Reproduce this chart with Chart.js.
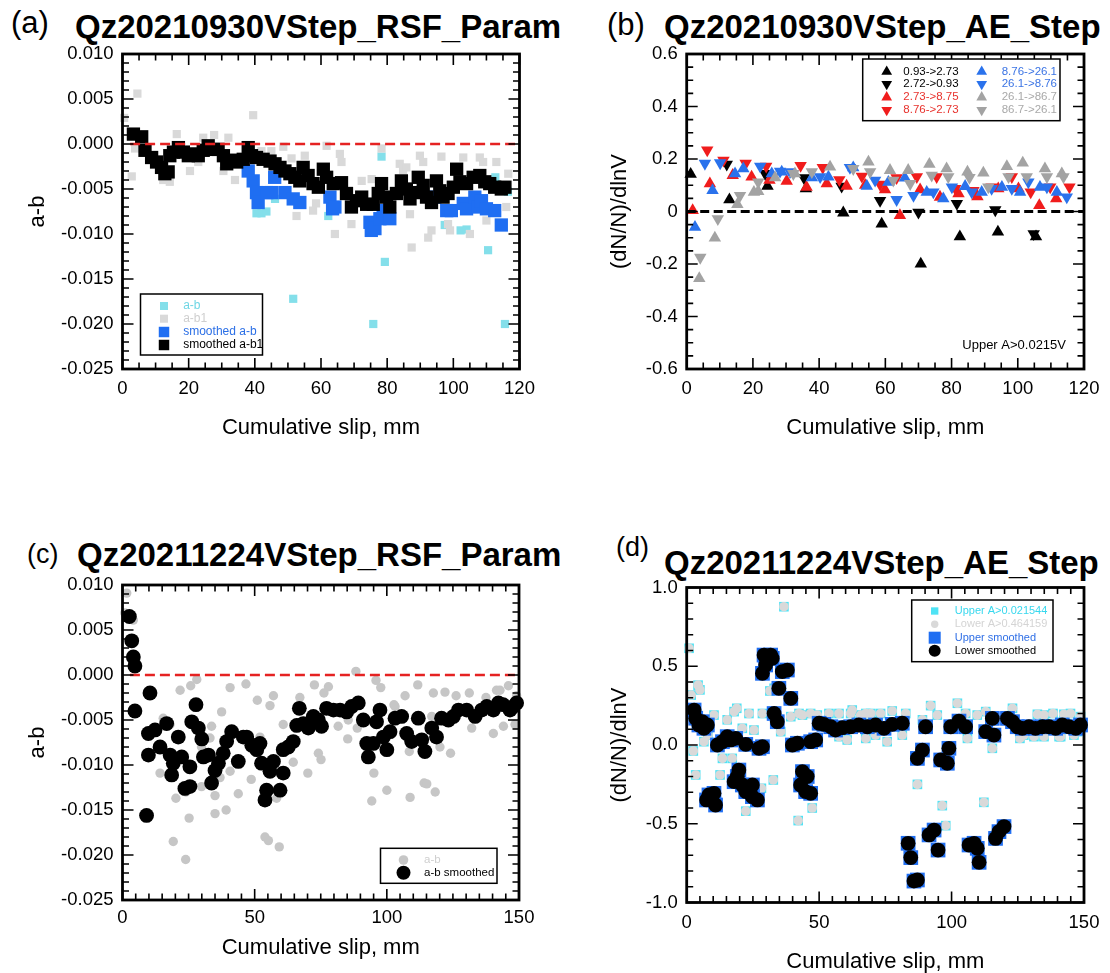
<!DOCTYPE html>
<html>
<head>
<meta charset="utf-8">
<script src="https://cdn.jsdelivr.net/npm/chart.js@4.4.1/dist/chart.umd.min.js"></script>
<style>
  body { margin: 0; background: #fff; width: 1110px; height: 973px; position: relative; overflow: hidden;
         font-family: "Liberation Sans", Arial, Helvetica, sans-serif; color: #000; }
  .tag { position: absolute; line-height: 1; white-space: nowrap; }
  .ttl { position: absolute; font-size: 33px; font-weight: bold; line-height: 1; white-space: nowrap; }
  canvas { position: absolute; }
</style>
</head>
<body>
<div class="tag" style="left:11px;top:7px;font-size:31px">(a)</div>
<div class="ttl" style="left:75px;top:10px">Qz20210930VStep_RSF_Param</div>
<div class="tag" style="left:607px;top:9px;font-size:31px">(b)</div>
<div class="ttl" style="left:664px;top:10px">Qz20210930VStep_AE_Step</div>
<div class="tag" style="left:27px;top:541px;font-size:27px">(c)</div>
<div class="ttl" style="left:77px;top:538px">Qz20211224VStep_RSF_Param</div>
<div class="tag" style="left:616px;top:534px;font-size:27px">(d)</div>
<div class="ttl" style="left:664px;top:546px">Qz20211224VStep_AE_Step</div>

<canvas id="pa" width="555" height="428" style="left:0;top:32px"></canvas>
<canvas id="pb" width="555" height="428" style="left:555px;top:32px"></canvas>
<canvas id="pc" width="555" height="410" style="left:0;top:563px"></canvas>
<canvas id="pd" width="555" height="414" style="left:555px;top:566px"></canvas>

<script>
// ---- (a) Qz20210930: a-b against cumulative slip [mm, a-b] ----
const aAB = [[40.5,-0.0077],[42,-0.0077],[43.5,-0.0075],[46.1,-0.0061],[51.6,-0.0172],[62.2,-0.0080],
  [78.3,-0.0014],[79.3,-0.0131],[75.8,-0.0200],[97.4,-0.0090],[102.2,-0.0096],[104,-0.0095],
  [110.5,-0.0118],[115.6,-0.0200],[112.7,-0.0037],[116.5,-0.0053]];
const aAB1 = [[0.5,0.0029],[4.5,0.0056],[2.8,-0.0036],[3.8,-0.0005],[12.3,-0.0040],[14.3,-0.0042],
  [16.4,0.0011],[20.4,-0.0030],[22.9,-0.0020],[24.4,0.0007],[27.7,0.0010],[30.5,-0.0030],[32,0.0007],
  [34,-0.0040],[39.5,0.0032],[42,-0.0008],[45,-0.0008],[48.6,-0.0003],[51.1,-0.0016],[52.6,-0.0080],
  [55.1,-0.0013],[57.6,-0.0074],[58.5,-0.0066],[61.7,-0.0002],[64.2,-0.0100],[65.7,-0.0011],
  [66.2,-0.0020],[69.2,-0.0089],[72.3,-0.0041],[75.3,-0.0039],[78.3,-0.0005],[83.8,-0.0022],
  [84.8,-0.0029],[85.8,-0.0026],[86.9,-0.0078],[87.4,-0.0115],[89.9,-0.0013],[90.9,-0.0020],
  [92.4,-0.0104],[93.4,-0.0096],[96.4,-0.0014],[98.4,-0.0089],[99,-0.0096],[103,-0.0015],
  [105,-0.0100],[108,-0.0015],[109,-0.0020],[110,-0.0085],[113,-0.0020],[116,-0.0070],[116.6,-0.0033]];
const aAbSmooth = [[38,-0.0030],[39.5,-0.0041],[40.5,-0.0054],[41,-0.0065],[43.6,-0.0054],[45.1,-0.0054],
  [46,-0.0037],[49.1,-0.0054],[51.6,-0.0061],[53.6,-0.0065],[62.7,-0.0059],[63.5,-0.0072],[64.2,-0.0070],
  [74.8,-0.0087],[75.2,-0.0096],[76.3,-0.0094],[77.8,-0.0083],[78.8,-0.0074],[80.8,-0.0083],
  [94.4,-0.0059],[98,-0.0074],[99.4,-0.0074],[103,-0.0066],[104,-0.0072],[106.5,-0.0059],
  [107.6,-0.0070],[108.5,-0.0063],[110,-0.0072],[112.5,-0.0074],[114.5,-0.0090]];
const aAb1Smooth = [[3.3,0.0011],[5.8,0.0008],[6.8,-0.0007],[8.8,-0.0015],[10.3,-0.0020],[11.8,-0.0026],
  [12.8,-0.0033],[13.8,-0.0031],[14.3,-0.0013],[15.4,-0.0009],[16.9,-0.0004],[18.4,-0.0009],
  [19.9,-0.0013],[21.4,-0.0011],[22.9,-0.0013],[24.4,-0.0007],[25.9,-0.0002],[27.4,-0.0006],
  [28.9,-0.0006],[30.5,-0.0013],[31.5,-0.0022],[33,-0.0018],[34.5,-0.0020],[36.5,-0.0017],
  [38,-0.0004],[39,-0.0013],[40.5,-0.0015],[42.5,-0.0017],[44.6,-0.0019],[46.1,-0.0022],
  [47.6,-0.0026],[49.1,-0.0030],[50.6,-0.0033],[52.1,-0.0037],[53.6,-0.0041],[54.6,-0.0026],
  [56.1,-0.0035],[57.6,-0.0044],[59.2,-0.0048],[60.7,-0.0028],[61.7,-0.0037],[63.7,-0.0044],
  [66.2,-0.0043],[67.7,-0.0055],[69.2,-0.0070],[70.7,-0.0063],[72.3,-0.0059],[73.8,-0.0067],
  [75.8,-0.0067],[77.3,-0.0055],[78.3,-0.0044],[79.8,-0.0059],[80.8,-0.0070],[82.8,-0.0055],
  [84.3,-0.0041],[85.8,-0.0050],[86.9,-0.0061],[88.4,-0.0054],[89.4,-0.0037],[90.9,-0.0046],
  [91.9,-0.0059],[93.4,-0.0065],[94.9,-0.0041],[95.9,-0.0052],[96.9,-0.0059],[98.4,-0.0055],
  [100,-0.0048],[101,-0.0028],[102,-0.0042],[104,-0.0044],[106,-0.0037],[108,-0.0035],
  [109.5,-0.0042],[111,-0.0044],[112.5,-0.0048],[114.5,-0.0050],[115.6,-0.0048]];
const aZero = [[2.3,0],[120,0]];

// ---- (b) Qz20210930: (dN/N)/dlnV per velocity step [mm, value] ----
const bUp093 = [[1.2,0.142],[12.9,0.045],[24.4,0.097],[36,0.087],[47.3,-0.005],[58.9,-0.047],
  [70.7,-0.200],[82.5,-0.096],[94,-0.078],[105.5,-0.096]];
const bDn272 = [[12.1,0.180],[23.7,0.144],[35.4,0.128],[46.8,0.096],[58.4,0.042],[70,-0.003],
  [81.6,0.030],[93.2,0.006],[104.8,-0.085]];
const bUp273 = [[1.8,0.004],[7.0,0.106],[13.9,0.138],[19.6,0.132],[25,0.119],[30.2,0.116],[36.2,0.093],
  [42.3,0.106],[48.3,0.097],[53.9,0.100],[59.9,0.083],[64.4,-0.015],[70.5,0.083],[76.5,0.055],
  [82.1,0.068],[87.8,0.057],[94.1,0.087],[100.2,0.087],[106.5,0.023],[111.6,0.049]];
const bDn876 = [[6.2,0.234],[11.1,0.195],[17.8,0.183],[24,0.172],[34.4,0.175],[41.1,0.167],[46.1,0.121],
  [52.9,0.134],[58.4,0.103],[63.4,0.128],[69.5,0.132],[75.5,0.132],[81.1,0.087],[86.6,0.080],
  [92.1,0.093],[98.2,0.132],[103.9,0.074],[109.8,0.093],[115.6,0.093]];
const bUp876 = [[2.5,-0.060],[7.8,0.080],[14.6,0.144],[17.1,0.163],[25.7,0.144],[28.7,0.151],[37.8,0.129],
  [42.8,0.132],[50.3,0.167],[54.4,0.097],[60.9,0.112],[65.9,0.128],[72.5,0.074],[77.5,0.049],
  [84.1,0.096],[89.1,0.074],[95.2,0.093],[100.7,0.074],[106.7,0.093],[111.8,0.074]];
const bDn261 = [[5.5,0.183],[10.1,0.185],[22.2,0.172],[28.2,0.153],[31.2,0.151],[40.3,0.132],[49.3,0.167],
  [56.9,0.119],[63.4,0.045],[68.5,0.061],[74.5,0.074],[80.1,0.093],[86.1,0.074],[92.1,0.087],
  [98.2,0.087],[103.2,0.112],[108.8,0.093],[114.8,0.055]];
const bUp261 = [[3.8,-0.255],[8.5,-0.101],[15.3,0.027],[20.3,0.074],[21.6,0.077],[26.7,0.129],[32.7,0.144],
  [43.3,0.170],[54.9,0.189],[61.4,0.157],[66.9,0.157],[73.3,0.180],[78.5,0.163],[84.8,0.151],
  [89.6,0.147],[96.7,0.172],[101.5,0.185],[108.2,0.163],[113.3,0.144]];
const bDn867 = [[4.1,-0.175],[9.4,-0.028],[16.1,0.061],[21.6,0.112],[32.2,0.144],[37.8,0.151],[50.3,0.163],
  [55.4,0.151],[62.4,0.119],[67.5,0.106],[74,0.138],[79,0.132],[85.4,0.129],[91.1,0.093],[97.2,0.132],
  [102.7,0.132],[108.8,0.132],[113.8,0.132]];
const bZero = [[0,0],[120,0]];

// ---- (c) Qz20211224: a-b against cumulative slip [mm, a-b] ----
const cAB = [[1.6,0.0091],[0.9,0.0069],[4.1,0.0061],[14.2,-0.0109],[15.4,-0.0048],[18,-0.0055],
  [19.2,-0.0185],[20.2,-0.0137],[21.8,-0.0017],[23.9,-0.0205],[24,-0.0130],[25.2,-0.0159],
  [25.8,-0.0012],[28.1,-0.0005],[29.9,-0.0124],[29.9,-0.0080],[33.1,-0.0070],[33.7,-0.0057],
  [35,-0.0134],[35,-0.0154],[36.9,-0.0114],[37.5,-0.0041],[39.2,-0.0150],[40.7,-0.0014],
  [40.7,-0.0107],[43.8,-0.0132],[46.7,-0.0010],[48.7,-0.0116],[51,-0.0028],[52,-0.0069],
  [53.9,-0.0180],[55.2,-0.0184],[55.8,-0.0034],[57.1,-0.0023],[58.3,-0.0137],[59.3,-0.0191],
  [60.8,-0.0055],[64.6,-0.0097],[67.1,-0.0025],[70.1,-0.0109],[72.6,-0.0011],[74.1,-0.0087],
  [75.1,-0.0094],[76.2,-0.0020],[77.9,-0.0013],[81.6,-0.0057],[85.2,-0.0071],[85.4,-0.0050],
  [88.3,0.0004],[88.8,-0.0059],[94.3,-0.0140],[95.1,-0.0109],[95.9,-0.0006],[97.7,-0.0014],
  [100,-0.0128],[102.7,-0.0033],[103.1,-0.0035],[106.9,-0.0023],[108.5,-0.0085],[108.8,-0.0136],
  [111.7,-0.0011],[114.1,-0.0120],[115.1,-0.0121],[117,-0.0046],[117.6,-0.0020],[118.3,-0.0130],
  [120.1,-0.0080],[122,-0.0019],[124.1,-0.0087],[126.2,-0.0023],[131.2,-0.0020],[132.1,-0.0059],
  [137.5,-0.0025],[140.3,-0.0065],[141.5,-0.0017],[142.8,-0.0017],[144.1,-0.0057],[146,-0.0012],
  [148.5,-0.0055],[149.1,-0.0023]];
const cAbSmooth = [[2.6,0.0065],[3.5,0.0038],[4.1,0.0020],[4.7,0.0010],[4.7,-0.0040],[9.1,-0.0156],
  [9.8,-0.0089],[9.8,-0.0065],[10.4,-0.0020],[12.3,-0.0061],[14.2,-0.0080],[16.7,-0.0054],[18,-0.0089],
  [18.6,-0.0111],[19.2,-0.0098],[21.1,-0.0069],[22.4,-0.0091],[23.6,-0.0126],[25.5,-0.0124],
  [25.5,-0.0102],[26.2,-0.0052],[27.8,-0.0033],[28.7,-0.0059],[30,-0.0071],[30.6,-0.0091],
  [32.5,-0.0089],[33.7,-0.0120],[35,-0.0106],[36.3,-0.0098],[38.1,-0.0087],[39.4,-0.0074],
  [41.3,-0.0063],[43.8,-0.0096],[45.7,-0.0069],[47,-0.0069],[48.9,-0.0078],[50.8,-0.0083],
  [52,-0.0076],[52.6,-0.0098],[53.9,-0.0139],[54.5,-0.0128],[55.8,-0.0107],[57.1,-0.0096],
  [59.6,-0.0128],[60.8,-0.0109],[60.8,-0.0083],[62.7,-0.0080],[64.6,-0.0074],[65.9,-0.0056],
  [66.9,-0.0037],[68.4,-0.0054],[70.3,-0.0059],[72.2,-0.0046],[74.1,-0.0050],[75.3,-0.0057],
  [77.2,-0.0037],[79.8,-0.0039],[82.3,-0.0039],[84.8,-0.0041],[86.7,-0.0035],[89.2,-0.0031],
  [91.1,-0.0050],[92.4,-0.0076],[93,-0.0091],[94.9,-0.0076],[96.1,-0.0052],[97.4,-0.0039],
  [98.7,-0.0069],[100,-0.0083],[101.2,-0.0063],[103.1,-0.0048],[105.6,-0.0046],[107.5,-0.0065],
  [109.4,-0.0074],[111.9,-0.0048],[113.2,-0.0072],[114.4,-0.0085],[117,-0.0059],[118.8,-0.0069],
  [120.7,-0.0048],[123.3,-0.0050],[125.2,-0.0046],[127.1,-0.0039],[130.2,-0.0039],[133.4,-0.0046],
  [135.9,-0.0039],[137.8,-0.0035],[140.3,-0.0039],[142.2,-0.0031],[144,-0.0033],[146.6,-0.0039],
  [147.9,-0.0035],[149.1,-0.0031]];
const cZero = [[2.8,0],[150,0]];

// ---- (d) Qz20211224: (dN/N)/dlnV, upper and lower thresholds coincide ----
const dUpper = [[0.9,0.614],[1.7,0.317],[2.5,-0.038],[3.4,-0.190],[4.3,0.380],[5,0.350],[6.5,0.021],
  [8,0.063],[10.3,0.190],[12.6,-0.190],[13.5,-0.085],[15.3,0.160],[17.2,-0.085],[17.9,0.212],
  [18.9,0.233],[21,0.106],[22.3,-0.420],[23.5,0.200],[25.4,0.095],[28.2,-0.275],[28.6,0.200],
  [31.4,0.343],[32.7,-0.222],[33,0.360],[35.5,0.085],[36.7,0.878],[39.3,0.180],[42.1,-0.480],
  [42.4,0.200],[43.7,0.190],[46.8,0.200],[47.4,-0.400],[49.3,0.190],[53.7,0.200],[57.5,0.200],
  [57.5,0.053],[60.6,0.032],[61.9,0.200],[62.5,0.222],[65.7,0.190],[67.6,0.200],[67.6,0.042],
  [69.5,0.200],[71.3,0.063],[73.2,0.200],[75.7,0.021],[77.6,0.216],[81.4,0.063],[82.7,0.200],
  [87.1,-0.250],[89,0.160],[92.1,0.250],[94.6,0.190],[96.5,-0.385],[97.8,-0.512],[102.2,0.265],
  [105.3,0.200],[106,0.042],[109.7,0.190],[112.2,-0.364],[112.9,0.212],[115.4,-0.021],[123,0.233],
  [125.8,0.042],[127.3,0.063],[131.1,0.053],[132.4,0.195],[134.9,0.190],[134.9,0.053],[138.3,0.200],
  [140.6,0.053],[141.2,0.053],[142.4,0.195],[144.9,0.200],[146.2,0.063],[147.5,0.085],[148.7,0.180]];
const dLower = dUpper;
const dUpperSmooth = [[2.8,0.222],[3.4,0.170],[4.6,0.127],[5.9,0.148],[6.5,0.106],[7.8,0.127],
  [7.5,-0.349],[8.4,-0.317],[10.3,-0.307],[10.9,-0.381],[11.6,0.000],[13.5,0.021],[15.3,0.053],
  [16.6,0.032],[18.5,0.042],[17.9,-0.233],[19.1,-0.200],[19.7,-0.159],[21,-0.254],[22.3,-0.296],
  [22.3,0.004],[24.8,-0.254],[24.8,-0.328],[26.7,-0.349],[27.3,-0.021],[28.6,-0.011],[28.6,0.455],
  [29.2,0.571],[29.8,0.508],[31.7,0.571],[32.3,0.550],[33,0.200],[34.2,0.148],[34.8,0.360],
  [36.1,0.466],[38,0.476],[39.3,0.296],[39.9,0.000],[41.8,0.011],[43,-0.254],[43.7,-0.169],
  [44.9,-0.296],[45.5,-0.200],[46.8,-0.307],[46.8,0.021],[48.7,0.032],[50,0.138],[51.8,0.131],
  [54.4,0.116],[56.2,0.095],[58.8,0.110],[61.9,0.116],[65,0.127],[68.2,0.116],[71.3,0.127],
  [74.5,0.106],[77.6,0.131],[81.4,0.138],[83.6,-0.624],[84.6,-0.715],[85.8,-0.864],[87.1,-0.857],
  [87.1,-0.085],[89,-0.032],[90.2,0.116],[91.5,-0.571],[93.4,-0.540],[94.9,-0.667],[95.9,-0.095],
  [98.4,-0.116],[99,-0.021],[99.7,0.116],[102.8,0.152],[105.3,0.116],[106.6,-0.635],[108.5,-0.624],
  [109.7,-0.656],[110.4,-0.745],[112.9,0.085],[115.4,0.169],[116,0.063],[116.6,-0.593],[117.9,-0.550],
  [119.8,-0.518],[121.1,0.169],[123,0.148],[124.8,0.116],[126.7,0.106],[129.2,0.116],[131.7,0.106],
  [134.3,0.116],[136.8,0.116],[139.3,0.106],[141.8,0.127],[144.3,0.116],[146.9,0.106],[148.7,0.127]];
const dLowerSmooth = dUpperSmooth;

const SLIP_TITLE = 'Cumulative slip, mm';

Chart.defaults.font.family = '"Liberation Sans", Arial, Helvetica, sans-serif';
Chart.defaults.color = '#000';
const TICK_FONT = { size: 18.5 };
const AXIS_FONT = { size: 22 };

function pts(list) {
  return list.map(p => ({ x: p[0], y: p[1] }));
}

// one scatter series; lower `order` is painted on top
function marks(label, list, style, r, color, order, rot) {
  return {
    label, data: pts(list), showLine: false, order, clip: false,
    pointStyle: style, pointRadius: r, pointRotation: rot || 0,
    pointBackgroundColor: color, pointBorderWidth: 0, borderColor: color, backgroundColor: color
  };
}

function zeroLine(list, color, width, dash) {
  return {
    type: 'line', data: pts(list), borderColor: color, borderWidth: width, borderDash: dash,
    pointRadius: 0, fill: false, order: 0, clip: false
  };
}

function steps(min, max, step) {
  const n = Math.round((max - min) / step), out = [];
  for (let i = 0; i <= n; i++) out.push(min + i * step);
  return out;
}
function onStep(v, step) {
  const k = v / step;
  return Math.abs(k - Math.round(k)) < 1e-6;
}

// closed box with inward major/minor ticks on all four sides
function boxFrame(f) {
  return {
    id: 'boxFrame',
    afterDatasetsDraw(chart) {
      const { ctx, chartArea: a, scales: { x, y } } = chart;
      ctx.save();
      ctx.strokeStyle = '#000';
      ctx.lineWidth = 1.6;
      ctx.beginPath();
      for (const v of steps(x.min, x.max, f.xMinor)) {
        const p = x.getPixelForValue(v), len = onStep(v, f.xMajor) ? 11 : 6.5;
        ctx.moveTo(p, a.bottom); ctx.lineTo(p, a.bottom - len);
        ctx.moveTo(p, a.top); ctx.lineTo(p, a.top + len);
      }
      for (const v of steps(y.min, y.max, f.yMinor)) {
        const p = y.getPixelForValue(v), len = onStep(v, f.yMajor) ? 11 : 6.5;
        ctx.moveTo(a.left, p); ctx.lineTo(a.left + len, p);
        ctx.moveTo(a.right, p); ctx.lineTo(a.right - len, p);
      }
      ctx.stroke();
      ctx.lineWidth = 2.8;
      ctx.strokeRect(a.left, a.top, a.right - a.left, a.bottom - a.top);
      ctx.restore();
    }
  };
}

// boxed legend placed inside the plot, positions relative to the chart area
function insetLegend(L) {
  return {
    id: 'insetLegend',
    afterDraw(chart) {
      const { ctx, chartArea: a } = chart;
      const sets = chart.data.datasets;
      ctx.save();
      if (L.box) {
        const [x0, y0, x1, y1] = L.box;
        ctx.fillStyle = '#fff';
        ctx.fillRect(a.left + x0, a.top + y0, x1 - x0, y1 - y0);
        ctx.lineWidth = 1.5;
        ctx.strokeStyle = '#000';
        ctx.strokeRect(a.left + x0, a.top + y0, x1 - x0, y1 - y0);
      }
      ctx.textBaseline = 'middle';
      ctx.font = L.font;
      for (const it of L.items || []) {
        const ds = sets[it.ds];
        ctx.fillStyle = ds.pointBackgroundColor;
        Chart.helpers.drawPoint(ctx, {
          pointStyle: ds.pointStyle, rotation: ds.pointRotation || 0, radius: it.r, borderWidth: 0
        }, a.left + it.mx, a.top + it.y);
        ctx.fillStyle = it.color;
        ctx.textAlign = 'left';
        ctx.fillText(ds.label, a.left + it.tx, a.top + it.y);
      }
      for (const n of L.notes || []) {
        ctx.font = n.font;
        ctx.fillStyle = '#000';
        ctx.textAlign = n.align;
        ctx.fillText(n.text, a.left + n.x, a.top + n.y);
      }
      ctx.restore();
    }
  };
}

// top padding stays above the half-label overhang of the y ticks so the area is not pushed down
function panel(id, o) {
  return new Chart(document.getElementById(id), {
    type: 'scatter',
    data: { datasets: o.datasets },
    options: {
      responsive: false, animation: false, events: [],
      layout: { padding: { left: 0, top: o.top, right: o.right, bottom: 0 } },
      plugins: { legend: { display: false }, tooltip: { enabled: false } },
      scales: {
        x: {
          type: 'linear', min: o.x[0], max: o.x[1],
          ticks: { stepSize: o.x[2], font: TICK_FONT, padding: o.xTickPad, maxRotation: 0, autoSkip: false,
                   callback: v => String(Math.round(v)) },
          grid: { display: false, drawTicks: false }, border: { display: false },
          title: { display: true, text: SLIP_TITLE, font: AXIS_FONT, padding: { top: 0, bottom: o.xTitlePad } },
          afterFit: s => { s.height = o.xh; }
        },
        y: {
          type: 'linear', min: o.y[0], max: o.y[1],
          ticks: { stepSize: o.y[2], font: TICK_FONT, padding: 9, autoSkip: false, callback: o.yFmt },
          grid: { display: false, drawTicks: false }, border: { display: false },
          title: { display: true, text: o.yTitle, font: AXIS_FONT, padding: { top: o.yTitlePad, bottom: 0 } },
          afterFit: s => { s.width = o.yw; }
        }
      }
    },
    plugins: [boxFrame(o.frame), insetLegend(o.legend)]
  });
}

const fmt3 = v => (Math.abs(v) < 1e-12 ? 0 : v).toFixed(3);
const fmt1 = v => (Math.abs(v) < 1e-9 ? 0 : v).toFixed(1);
const fmtShort = v => Math.abs(v) < 1e-9 ? '0' : String(Math.round(v * 10) / 10);

const CYAN_A = '#84dfea', LIGHT = '#d9d9d9', BLUE = '#1f6ef2';
const RED = '#f01c1c', BLUE_T = '#2a72ec', GRAY_T = '#a3a3a3';

panel('pa', {
  datasets: [
    zeroLine(aZero, '#e52222', 2.7, [10, 5]),
    marks('smoothed a-b1', aAb1Smooth, 'rect', 9.4, '#000', 1),
    marks('smoothed a-b', aAbSmooth, 'rect', 9.4, BLUE, 2),
    marks('a-b1', aAB1, 'rect', 5.8, LIGHT, 3),
    marks('a-b', aAB, 'rect', 5.8, CYAN_A, 4)
  ],
  x: [0, 120, 20], y: [-0.025, 0.010, 0.005], yFmt: fmt3, yTitle: 'a-b',
  top: 22, right: 35.5, yw: 122.5, xh: 91, xTickPad: 9, xTitlePad: 18.8, yTitlePad: 24.8,
  frame: { xMajor: 20, xMinor: 5, yMajor: 0.005, yMinor: 0.001 },
  legend: {
    box: [18, 240, 140, 301], font: '12px "Liberation Sans", Arial, sans-serif',
    items: [
      { ds: 4, r: 5.7, mx: 41.5, tx: 60.7, y: 252, color: '#6fd6e4' },
      { ds: 3, r: 5.7, mx: 41.5, tx: 60.7, y: 264.7, color: '#cfcfcf' },
      { ds: 2, r: 7.4, mx: 41.5, tx: 60.7, y: 278, color: '#2b6fe6' },
      { ds: 1, r: 7.4, mx: 41.5, tx: 60.7, y: 291, color: '#000' }
    ]
  }
});

panel('pb', {
  datasets: [
    zeroLine(bZero, '#000', 3.2, [9, 4.5]),
    marks('86.7->26.1', bDn867, 'triangle', 7.2, GRAY_T, 1, 180),
    marks('26.1->86.7', bUp261, 'triangle', 7.2, GRAY_T, 2),
    marks('26.1->8.76', bDn261, 'triangle', 7.2, BLUE_T, 3, 180),
    marks('8.76->26.1', bUp876, 'triangle', 7.2, BLUE_T, 4),
    marks('8.76->2.73', bDn876, 'triangle', 7.2, RED, 5, 180),
    marks('2.73->8.75', bUp273, 'triangle', 7.2, RED, 6),
    marks('2.72->0.93', bDn272, 'triangle', 7.2, '#000', 7, 180),
    marks('0.93->2.73', bUp093, 'triangle', 7.2, '#000', 8)
  ],
  x: [0, 120, 20], y: [-0.6, 0.6, 0.2], yFmt: fmtShort, yTitle: '(dN/N)/dlnV',
  top: 22, right: 26, yw: 131.7, xh: 91, xTickPad: 9, xTitlePad: 18.8, yTitlePad: 52,
  frame: { xMajor: 20, xMinor: 5, yMajor: 0.2, yMinor: 0.05 },
  legend: {
    box: [176, 5, 373.3, 66.7], font: '11.5px "Liberation Sans", Arial, sans-serif',
    items: [
      { ds: 8, r: 6.2, mx: 200, tx: 216.6, y: 17.7, color: '#000' },
      { ds: 7, r: 6.2, mx: 200, tx: 216.6, y: 30, color: '#000' },
      { ds: 6, r: 6.2, mx: 200, tx: 216.6, y: 43.3, color: '#e8322d' },
      { ds: 5, r: 6.2, mx: 200, tx: 216.6, y: 56, color: '#e8322d' },
      { ds: 4, r: 6.2, mx: 295, tx: 315, y: 17.7, color: '#3b74e4' },
      { ds: 3, r: 6.2, mx: 295, tx: 315, y: 30, color: '#3b74e4' },
      { ds: 2, r: 6.2, mx: 295, tx: 315, y: 43.3, color: '#a9a9a9' },
      { ds: 1, r: 6.2, mx: 295, tx: 315, y: 56, color: '#a9a9a9' }
    ],
    notes: [{ text: 'Upper A>0.0215V', x: 379.3, y: 291, align: 'right',
              font: '13px "Liberation Sans", Arial, sans-serif' }]
  }
});

panel('pc', {
  datasets: [
    zeroLine(cZero, '#e52222', 2.7, [10, 5]),
    marks('a-b smoothed', cAbSmooth, 'circle', 7.4, '#000', 1),
    marks('a-b', cAB, 'circle', 4.7, '#c6c6c6', 2)
  ],
  x: [0, 150, 50], y: [-0.025, 0.010, 0.005], yFmt: fmt3, yTitle: 'a-b',
  top: 22, right: 36, yw: 122.5, xh: 73, xTickPad: 7, xTitlePad: 11.8, yTitlePad: 24.8,
  frame: { xMajor: 50, xMinor: 5, yMajor: 0.005, yMinor: 0.001 },
  legend: {
    box: [258, 263.3, 374.5, 298.3], font: '11.5px "Liberation Sans", Arial, sans-serif',
    items: [
      { ds: 2, r: 4.8, mx: 281, tx: 301.5, y: 275, color: '#cfcfcf' },
      { ds: 1, r: 7, mx: 281, tx: 301.5, y: 287.7, color: '#000' }
    ]
  }
});

panel('pd', {
  datasets: [
    marks('Lower smoothed', dLowerSmooth, 'circle', 7.4, '#000', 1),
    marks('Upper smoothed', dUpperSmooth, 'rect', 10.4, BLUE, 2),
    marks('Lower A>0.464159', dLower, 'circle', 4.8, LIGHT, 3),
    marks('Upper A>0.021544', dUpper, 'rect', 6.8, '#4fe3f5', 4)
  ],
  x: [0, 150, 50], y: [-1, 1, 0.5], yFmt: fmt1, yTitle: '(dN/N)/dlnV',
  top: 21.5, right: 26, yw: 131.7, xh: 77.5, xTickPad: 9.4, xTitlePad: 4.8, yTitlePad: 52,
  frame: { xMajor: 50, xMinor: 5, yMajor: 0.5, yMinor: 0.1 },
  legend: {
    box: [225, 12.5, 366.3, 74.2], font: '11px "Liberation Sans", Arial, sans-serif',
    items: [
      { ds: 3, r: 5.2, mx: 248, tx: 268, y: 23.5, color: '#38d8ee' },
      { ds: 2, r: 3.7, mx: 248, tx: 268, y: 36.8, color: '#d4d4d4' },
      { ds: 1, r: 8.5, mx: 248, tx: 268, y: 50.2, color: '#2f6fe6' },
      { ds: 0, r: 6, mx: 248, tx: 268, y: 63.2, color: '#000' }
    ]
  }
});
</script>
</body>
</html>
